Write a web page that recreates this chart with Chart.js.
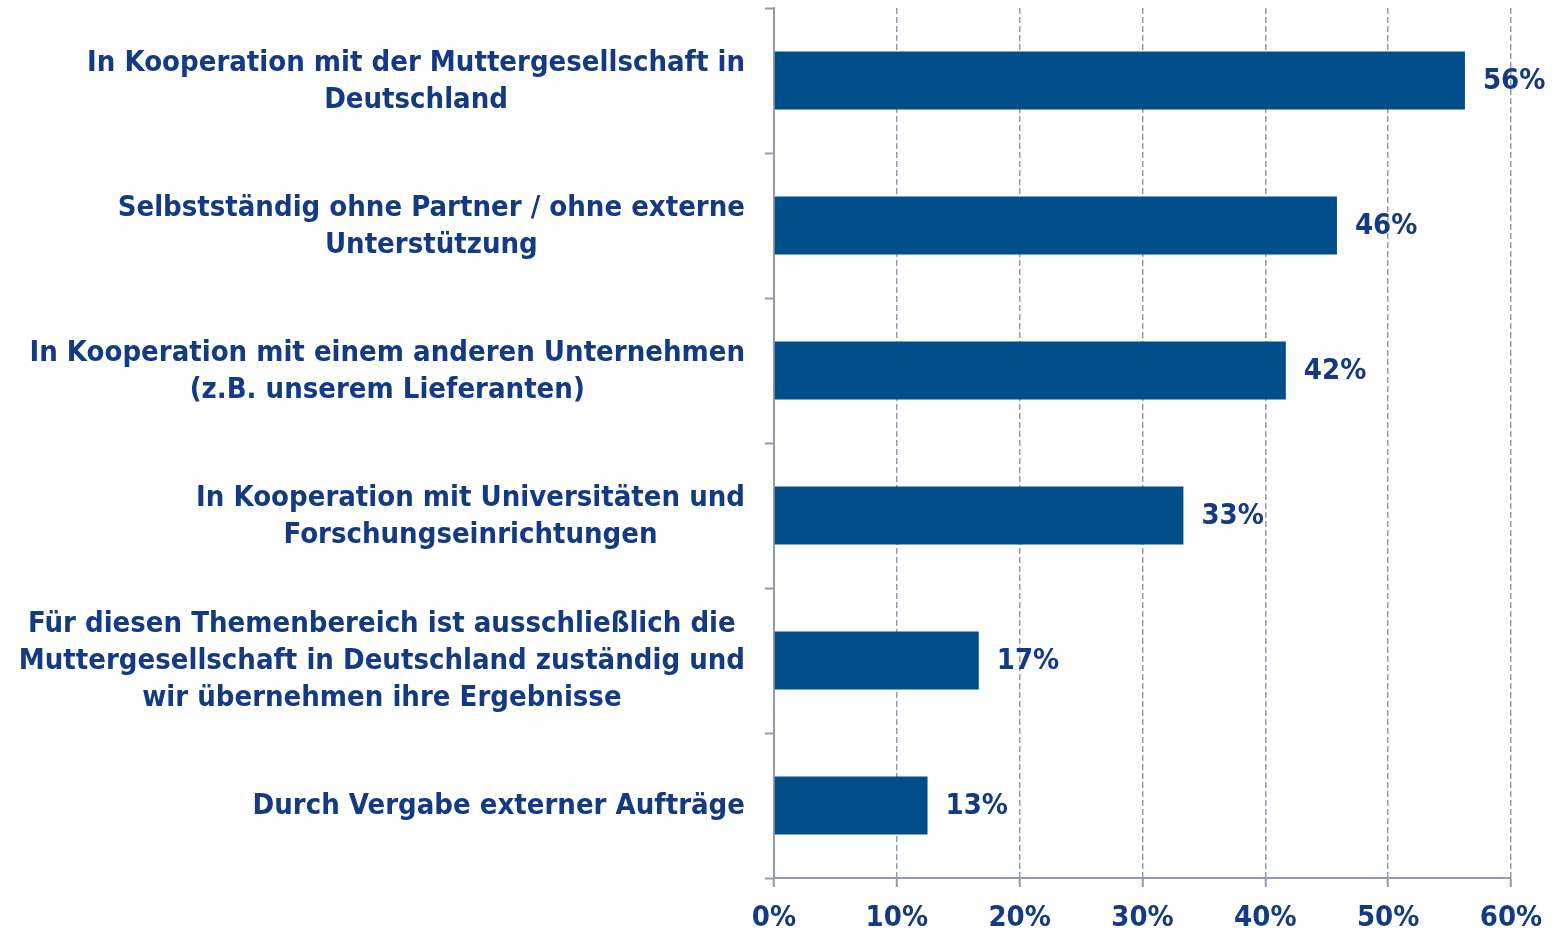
<!DOCTYPE html>
<html>
<head>
<meta charset="utf-8">
<script src="https://cdn.jsdelivr.net/npm/chart.js@4"></script>
<style>
  html, body { margin: 0; padding: 0; background: #fff; }
  #wrap { width: 1553px; height: 930px; }
</style>
</head>
<body>
<div id="wrap"><canvas id="chart" width="1553" height="930"></canvas></div>
<script>
const categories = [
  ['In Kooperation mit der Muttergesellschaft in', 'Deutschland'],
  ['Selbstständig ohne Partner / ohne externe', 'Unterstützung'],
  ['In Kooperation mit einem anderen Unternehmen', '(z.B. unserem Lieferanten)'],
  ['In Kooperation mit Universitäten und', 'Forschungseinrichtungen'],
  ['Für diesen Themenbereich ist ausschließlich die', 'Muttergesellschaft in Deutschland zuständig und', 'wir übernehmen ihre Ergebnisse'],
  ['Durch Vergabe externer Aufträge']
];
const shares = [56.25, 45.83, 41.67, 33.33, 16.67, 12.5];
const xTickValues = [0, 10, 20, 30, 40, 50, 60];

const TEXT = '#133a82';
const BAR = '#004f8b';
const GRID = '#9499b4';
const FONT = '"DejaVu Sans Condensed", "DejaVu Sans", sans-serif';

// category labels: block right-aligned next to the axis, lines centred inside the block
const categoryLabels = {
  id: 'categoryLabels',
  afterDraw(chart) {
    const { ctx } = chart;
    const yScale = chart.scales.y;
    ctx.save();
    ctx.font = `bold 29px ${FONT}`;
    ctx.fillStyle = TEXT;
    ctx.textAlign = 'center';
    ctx.textBaseline = 'middle';
    const right = yScale.right - 29;
    categories.forEach((lines, i) => {
      const y = yScale.getPixelForValue(i);
      const w = Math.max(...lines.map(l => ctx.measureText(l).width));
      const cx = right - w / 2;
      lines.forEach((line, j) => {
        ctx.fillText(line, cx, y + 1 + (j - (lines.length - 1) / 2) * 37);
      });
    });
    ctx.restore();
  }
};

// percentage after each bar
const valueLabels = {
  id: 'valueLabels',
  afterDatasetsDraw(chart) {
    const { ctx } = chart;
    const meta = chart.getDatasetMeta(0);
    ctx.save();
    ctx.font = `bold 29px ${FONT}`;
    ctx.fillStyle = TEXT;
    ctx.textAlign = 'left';
    ctx.textBaseline = 'middle';
    meta.data.forEach((bar, i) => {
      ctx.fillText(Math.round(shares[i]) + '%', bar.x + 18, bar.y + 1);
    });
    ctx.restore();
  }
};

new Chart(document.getElementById('chart'), {
  type: 'bar',
  data: {
    labels: categories,
    datasets: [{
      data: shares,
      backgroundColor: BAR,
      borderWidth: 0,
      barPercentage: 0.4,
      categoryPercentage: 1
    }]
  },
  plugins: [categoryLabels, valueLabels],
  options: {
    indexAxis: 'y',
    responsive: false,
    animation: false,
    devicePixelRatio: 1,
    layout: { padding: { top: 8, right: 42, left: 0, bottom: 0 } },
    plugins: {
      legend: { display: false },
      tooltip: { enabled: false }
    },
    scales: {
      x: {
        min: 0,
        max: 60,
        afterFit: s => { s.height = 52; s.paddingLeft = 0; s.paddingRight = 0; },
        afterBuildTicks: s => { s.ticks = xTickValues.map(v => ({ value: v })); },
        ticks: {
          color: TEXT,
          font: { family: FONT, size: 29, weight: 'bold' },
          padding: 14,
          maxRotation: 0,
          callback: v => v + '%'
        },
        grid: {
          color: GRID,
          lineWidth: 1.5,
          tickLength: 9,
          tickWidth: 2,
          tickBorderDash: []
        },
        border: { color: GRID, width: 2, dash: [6, 3] }
      },
      y: {
        afterFit: s => { s.width = 774; },
        ticks: { display: false },
        grid: {
          drawOnChartArea: false,
          offset: true,
          color: GRID,
          tickLength: 9,
          tickWidth: 2
        },
        border: { color: GRID, width: 2 }
      }
    }
  }
});
</script>
</body>
</html>
